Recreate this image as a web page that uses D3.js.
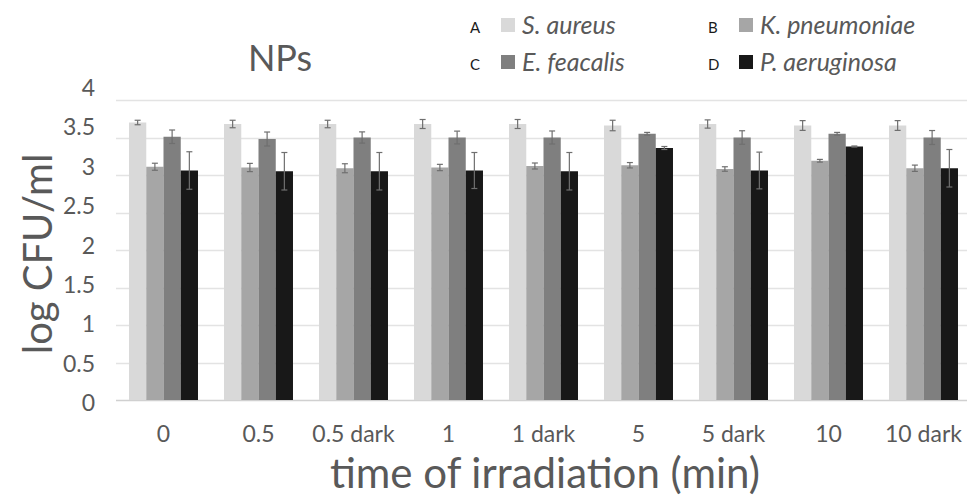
<!DOCTYPE html>
<html>
<head>
<meta charset="utf-8">
<script src="https://cdn.jsdelivr.net/npm/d3@7"></script>
<style>
  body { margin: 0; background: #fff; }
  svg { display: block; font-family: Lato, "Open Sans", sans-serif; }
</style>
</head>
<body>
<script>
var categories = ["0", "0.5", "0.5 dark", "1", "1 dark", "5", "5 dark", "10", "10 dark"];
var seriesNames = ["S. aureus", "K. pneumoniae", "E. feacalis", "P. aeruginosa"];
var seriesLetters = ["A", "B", "C", "D"];
var seriesColors = ["#d9d9d9", "#a6a6a6", "#7f7f7f", "#181818"];

var saureus = [3.70, 3.68, 3.68, 3.68, 3.68, 3.66, 3.68, 3.66, 3.66];
var kpneumoniae = [3.11, 3.10, 3.09, 3.10, 3.12, 3.13, 3.08, 3.19, 3.09];
var efeacalis = [3.51, 3.48, 3.50, 3.50, 3.50, 3.55, 3.50, 3.55, 3.50];
var paeruginosa = [3.06, 3.05, 3.05, 3.06, 3.05, 3.36, 3.06, 3.38, 3.09];

var saureusErr = [0.03, 0.05, 0.05, 0.06, 0.06, 0.07, 0.055, 0.065, 0.065];
var kpneumoniaeErr = [0.047, 0.055, 0.06, 0.042, 0.04, 0.036, 0.03, 0.018, 0.042];
var efeacalisErr = [0.09, 0.093, 0.075, 0.085, 0.087, 0.018, 0.09, 0.018, 0.093];
var paeruginosaErr = [0.25, 0.25, 0.25, 0.24, 0.25, 0.02, 0.245, 0.007, 0.25];

var yTicks = [0, 0.5, 1, 1.5, 2, 2.5, 3, 3.5, 4];

var values = [saureus, kpneumoniae, efeacalis, paeruginosa];
var errors = [saureusErr, kpneumoniaeErr, efeacalisErr, paeruginosaErr];

var width = 967, height = 496;
var margin = {left: 116, right: -4, top: 100, bottom: 96};

var svg = d3.select("body").append("svg")
  .attr("width", width)
  .attr("height", height);

var x0 = d3.scaleBand()
  .domain(categories)
  .range([margin.left, width - margin.right])
  .paddingInner(0.274)
  .paddingOuter(0.137);

var x1 = d3.scaleBand()
  .domain(d3.range(seriesNames.length))
  .range([0, x0.bandwidth()]);

var y = d3.scaleLinear()
  .domain([0, 4])
  .range([height - margin.bottom, margin.top]);

// tick labels in the source sit on a slightly wider spacing than the grid
var yLabel = d3.scaleLinear()
  .domain([0, 4])
  .range([403, 88]);

// gridlines
svg.append("g")
  .selectAll("line")
  .data(yTicks)
  .enter()
  .append("line")
  .attr("x1", margin.left)
  .attr("x2", width)
  .attr("y1", function(d) { return Math.round(y(d)) + 0.5; })
  .attr("y2", function(d) { return Math.round(y(d)) + 0.5; })
  .attr("stroke", function(d) { return d === 0 ? "#d0d0d0" : "#e3e3e3"; })
  .attr("stroke-width", 1.5);

// y tick labels
svg.append("g")
  .selectAll("text")
  .data(yTicks)
  .enter()
  .append("text")
  .attr("x", 95)
  .attr("y", function(d) { return yLabel(d); })
  .attr("dy", "0.35em")
  .attr("text-anchor", "end")
  .attr("font-size", 23)
  .attr("fill", "#595959")
  .text(function(d) { return d; });

// bars
var groups = svg.append("g")
  .selectAll("g")
  .data(categories)
  .enter()
  .append("g")
  .attr("transform", function(d) { return "translate(" + x0(d) + ",0)"; });

groups.selectAll("rect")
  .data(function(d, i) {
    return values.map(function(s, j) { return {s: j, v: s[i], e: errors[j][i]}; });
  })
  .enter()
  .append("rect")
  .attr("x", function(d) { return x1(d.s); })
  .attr("width", x1.bandwidth())
  .attr("y", function(d) { return y(d.v); })
  .attr("height", function(d) { return y(0) - y(d.v); })
  .attr("fill", function(d) { return seriesColors[d.s]; });

// error bars
var eb = groups.selectAll("g.err")
  .data(function(d, i) {
    return values.map(function(s, j) { return {s: j, v: s[i], e: errors[j][i]}; });
  })
  .enter()
  .append("g")
  .attr("class", "err")
  .attr("stroke", "#6f6f6f")
  .attr("stroke-width", 1.2);

eb.append("line")
  .attr("x1", function(d) { return x1(d.s) + x1.bandwidth() / 2; })
  .attr("x2", function(d) { return x1(d.s) + x1.bandwidth() / 2; })
  .attr("y1", function(d) { return y(d.v - d.e); })
  .attr("y2", function(d) { return y(d.v + d.e); });

[-1, 1].forEach(function(sign) {
  eb.append("line")
    .attr("x1", function(d) { return x1(d.s) + x1.bandwidth() / 2 - 3; })
    .attr("x2", function(d) { return x1(d.s) + x1.bandwidth() / 2 + 3; })
    .attr("y1", function(d) { return y(d.v + sign * d.e); })
    .attr("y2", function(d) { return y(d.v + sign * d.e); });
});

// x tick labels
svg.append("g")
  .selectAll("text")
  .data(categories)
  .enter()
  .append("text")
  .attr("x", function(d) { return x0(d) + x0.bandwidth() / 2; })
  .attr("y", 434)
  .attr("dy", "0.35em")
  .attr("text-anchor", "middle")
  .attr("font-size", 23)
  .attr("fill", "#595959")
  .text(function(d) { return d; });

// axis titles
svg.append("text")
  .attr("x", 545)
  .attr("y", 488)
  .attr("text-anchor", "middle")
  .attr("font-size", 42)
  .attr("fill", "#595959")
  .text("time of irradiation (min)");

svg.append("text")
  .attr("transform", "translate(52,254) rotate(-90)")
  .attr("text-anchor", "middle")
  .attr("font-size", 40)
  .attr("fill", "#595959")
  .text("log CFU/ml");

svg.append("text")
  .attr("x", 280)
  .attr("y", 71)
  .attr("text-anchor", "middle")
  .attr("font-size", 36)
  .attr("fill", "#595959")
  .text("NPs");

// legend
var legendPos = [[470, 25], [708, 25], [470, 62], [708, 62]];
var legend = svg.append("g")
  .selectAll("g")
  .data(seriesNames)
  .enter()
  .append("g")
  .attr("transform", function(d, i) { return "translate(" + legendPos[i][0] + "," + legendPos[i][1] + ")"; });

legend.append("text")
  .attr("x", 0)
  .attr("y", 3)
  .attr("dy", "0.35em")
  .attr("font-size", 15)
  .attr("fill", "#1a1a1a")
  .text(function(d, i) { return seriesLetters[i]; });

legend.append("rect")
  .attr("x", 31)
  .attr("y", -7)
  .attr("width", 14)
  .attr("height", 14)
  .attr("fill", function(d, i) { return seriesColors[i]; });

legend.append("text")
  .attr("x", 52)
  .attr("y", 0)
  .attr("dy", "0.35em")
  .attr("font-size", 25)
  .attr("font-style", "italic")
  .attr("fill", "#595959")
  .text(function(d) { return d; });
</script>
</body>
</html>
